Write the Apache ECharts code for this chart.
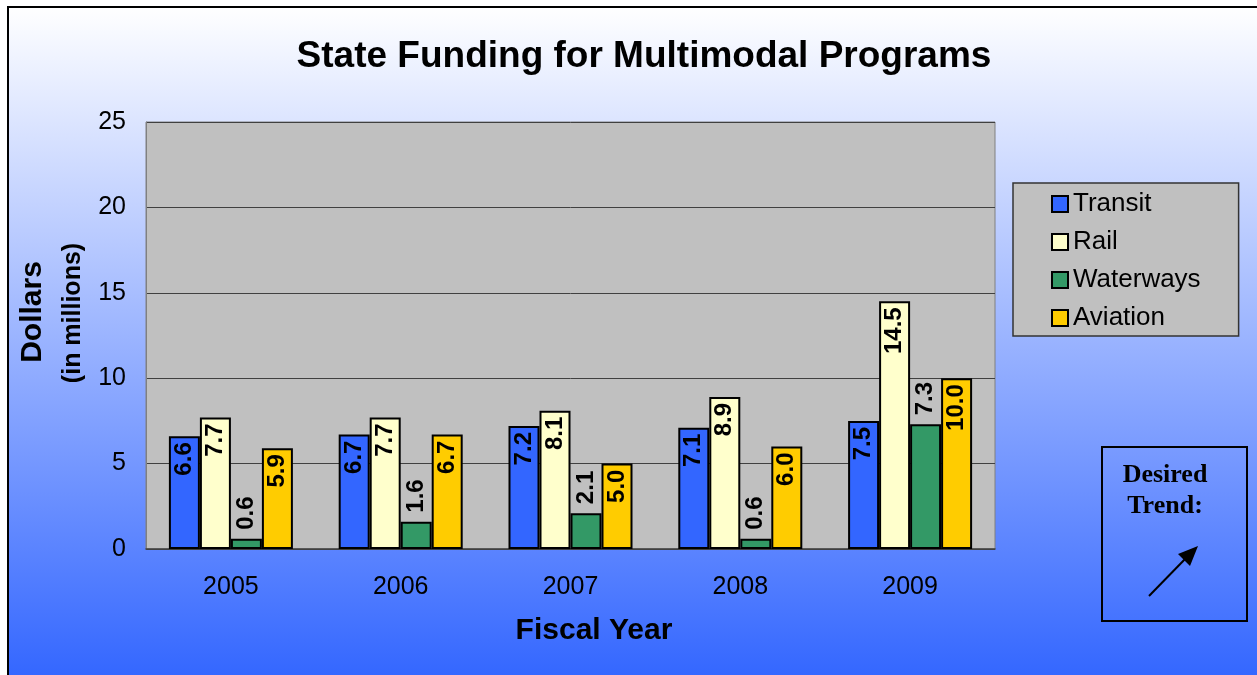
<!DOCTYPE html>
<html>
<head>
<meta charset="utf-8">
<script src="https://cdn.jsdelivr.net/npm/echarts@6/dist/echarts.min.js"></script>
<style>
html,body{margin:0;padding:0;background:#fff;}
#chart{width:1257px;height:675px;}
</style>
</head>
<body>
<div id="chart"></div>
<script>
const years = ['2005', '2006', '2007', '2008', '2009'];
const transit = [6.6, 6.7, 7.2, 7.1, 7.5];
const rail = [7.7, 7.7, 8.1, 8.9, 14.5];
const waterways = [0.6, 1.6, 2.1, 0.6, 7.3];
const aviation = [5.9, 6.7, 5.0, 6.0, 10.0];
const seriesNames = ['Transit', 'Rail', 'Waterways', 'Aviation'];
const seriesColors = ['#3366ff', '#ffffcc', '#339966', '#ffcc00'];

const FONT = '"Liberation Sans", Arial, sans-serif';
const chart = echarts.init(document.getElementById('chart'), null, {renderer: 'canvas'});

const insideLabel = {
  show: true, position: 'insideTop', rotate: 90, align: 'right', verticalAlign: 'middle',
  distance: 6, fontFamily: FONT, fontWeight: 'bold', fontSize: 24, color: '#000',
  formatter: p => p.value.toFixed(1)
};
const outsideLabel = Object.assign({}, insideLabel, {position: 'top', align: 'left', distance: 9});

function mk(name, data, color, label) {
  return {
    name, type: 'bar', data, barWidth: 31, barGap: '0%',
    itemStyle: {color, borderColor: '#000', borderWidth: 2},
    label
  };
}

chart.setOption({
  animation: false,
  grid: {left: 146, top: 122, width: 849, height: 427, show: true,
         backgroundColor: '#c0c0c0', borderColor: '#808080', borderWidth: 1},
  xAxis: {
    type: 'category', data: years,
    axisLine: {lineStyle: {color: '#404040', width: 1.5}},
    axisTick: {show: false},
    axisLabel: {fontFamily: FONT, fontSize: 25, color: '#000', margin: 26}
  },
  yAxis: {
    type: 'value', min: 0, max: 25, interval: 5,
    axisLine: {show: true, lineStyle: {color: '#808080'}},
    axisTick: {show: false},
    axisLabel: {fontFamily: FONT, fontSize: 25, color: '#000', margin: 20},
    splitLine: {lineStyle: {color: '#404040', width: 1}}
  },
  legend: {
    orient: 'vertical', left: 1013, top: 183,
    padding: [8, 38, 5, 38], itemGap: 12, itemWidth: 16, itemHeight: 16,
    icon: 'rect', backgroundColor: '#c0c0c0', borderColor: '#333', borderWidth: 1.5,
    textStyle: {fontFamily: FONT, fontSize: 26, color: '#000', lineHeight: 26, padding: [0,0,0,0]},
    itemStyle: {borderColor: '#000', borderWidth: 2},
    data: seriesNames
  },
  series: [
    mk(seriesNames[0], transit, seriesColors[0], insideLabel),
    mk(seriesNames[1], rail, seriesColors[1], insideLabel),
    mk(seriesNames[2], waterways, seriesColors[2], outsideLabel),
    mk(seriesNames[3], aviation, seriesColors[3], insideLabel)
  ],
  graphic: [
    {type: 'rect', z: -100, shape: {x: 8, y: 7, width: 1262, height: 672},
     style: {fill: new echarts.graphic.LinearGradient(0, 0, 0, 1, [
       {offset: 0, color: '#ffffff'}, {offset: 1, color: '#3366ff'}]),
       stroke: '#000', lineWidth: 2}},
    {type: 'text', x: 644, y: 57, style: {text: 'State Funding for Multimodal Programs',
      font: 'bold 37px ' + FONT, fill: '#000', textAlign: 'center', textVerticalAlign: 'middle'}},
    {type: 'text', x: 33, y: 312, rotation: Math.PI / 2, style: {text: 'Dollars',
      font: 'bold 30px ' + FONT, fill: '#000', textAlign: 'center', textVerticalAlign: 'middle'}},
    {type: 'text', x: 73, y: 313, rotation: Math.PI / 2, style: {text: '(in millions)',
      font: 'bold 25px ' + FONT, fill: '#000', textAlign: 'center', textVerticalAlign: 'middle'}},
    {type: 'text', x: 594, y: 631, style: {text: 'Fiscal Year',
      font: 'bold 30px ' + FONT, fill: '#000', textAlign: 'center', textVerticalAlign: 'middle'}},
    {type: 'rect', shape: {x: 1102, y: 447, width: 145, height: 174},
     style: {fill: 'none', stroke: '#000', lineWidth: 2}},
    {type: 'text', x: 1165, y: 460, style: {text: 'Desired\nTrend:', lineHeight: 31,
      font: 'bold 26px "Liberation Serif", "Times New Roman", serif', fill: '#000',
      textAlign: 'center', textVerticalAlign: 'top'}},
    {type: 'line', shape: {x1: 1149, y1: 596, x2: 1188, y2: 556},
     style: {stroke: '#000', lineWidth: 2}},
    {type: 'polygon', shape: {points: [[1198, 546], [1190, 566], [1178, 554]]},
     style: {fill: '#000'}}
  ]
});
</script>
</body>
</html>
